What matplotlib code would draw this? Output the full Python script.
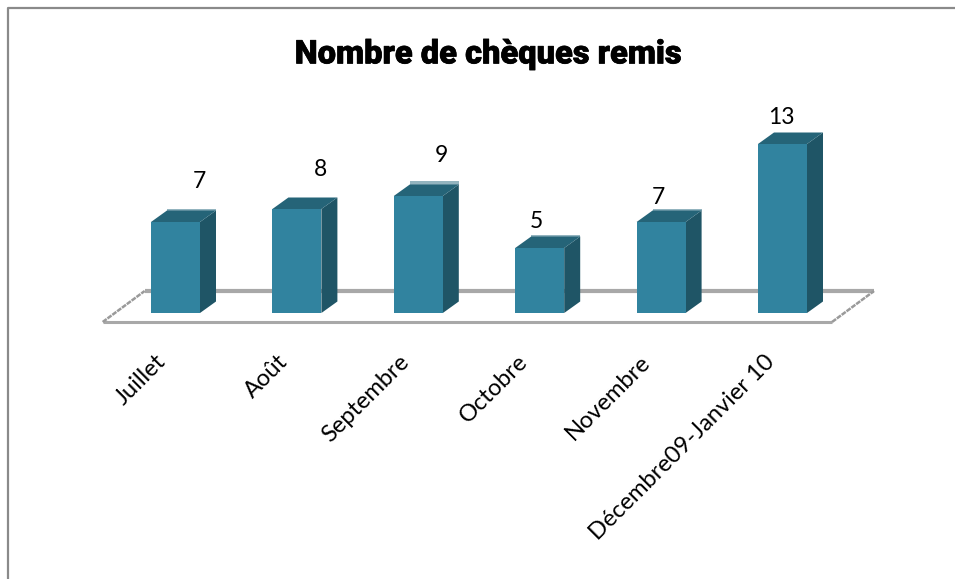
import matplotlib
matplotlib.use("Agg")
import matplotlib.pyplot as plt
import matplotlib.patheffects as pe
from matplotlib.lines import Line2D
from matplotlib.patches import Polygon

categories = ["Juillet", "Août", "Septembre", "Octobre", "Novembre", "Décembre09-Janvier 10"]
values = [7, 8, 9, 5, 7, 13]
# hand placed labels in the original, offsets in px from bar top centre
label_dx = [24, 24, 23, -3, -3, -1]
label_dy = [40, 39, 41, 26, 25, 26]
# end of the rotated axis labels, px from bar centre
tick_dx = [-21, -20, -20, -23, -22, -19]
strip = [0.1, 0, 0.3, 0.1, 0.1, 0]

front = "#31839f"
top = "#256478"
side = "#1f5566"
pale = "#93b4bf"
floor = "#a8a8a8"

W, H = 955, 579
px_x = 121.4   # px per category
px_y = 13.0    # px per unit
x0, y0 = 175.5, 313
bar_w = 49 / px_x
dep_x = 16 / px_x
dep_y = 11.5 / px_y

plt.rcParams["font.family"] = ["Lato", "DejaVu Sans"]
fig = plt.figure(figsize=(W / 100, H / 100), dpi=100)
ax = fig.add_axes([0, 0, 1, 1])
ax.set_xlim(-x0 / px_x, (W - x0) / px_x)
ax.set_ylim(-(H - y0) / px_y, y0 / px_y)
ax.axis("off")

# outer chart frame, open on the right and bottom
fig.add_artist(Line2D([8 / W, 8 / W, 1], [0, 1 - 8 / H, 1 - 8 / H], color="#8a8a8a", lw=1.6))

# floor of the 3d box
fl, fr, back = -0.6, 5.408, 0.346
ax.plot([fl + back, fr + back], [22 / px_y, 22 / px_y], color=floor, lw=3, zorder=1, solid_capstyle="butt")
ax.plot([fl, fr], [-9 / px_y, -9 / px_y], color=floor, lw=2.2, zorder=1, solid_capstyle="butt")
ax.plot([fl, fl + back], [-9 / px_y, 22 / px_y], color="#9a9a9a", lw=1.8, ls=(0, (2, 0.4)), zorder=1)
ax.plot([fr, fr + back], [-9 / px_y, 22 / px_y], color="#9a9a9a", lw=1.8, ls=(0, (2, 0.4)), zorder=1)

xs = list(range(len(values)))
for x, v, s in zip(xs, values, strip):
    l, r = x - bar_w / 2, x + bar_w / 2
    # pale strip behind the top face
    if s > 0:
        ax.add_patch(Polygon([(l + dep_x, v + dep_y), (l + dep_x, v + dep_y + s),
                              (r + dep_x, v + dep_y + s), (r + dep_x, v + dep_y)],
                             facecolor=pale, edgecolor="none", zorder=2))
    ax.add_patch(Polygon([(r, 0), (r + dep_x, dep_y), (r + dep_x, v + dep_y), (r, v)],
                         facecolor=side, edgecolor="none", zorder=3))
    ax.add_patch(Polygon([(l, v), (l + dep_x, v + dep_y), (r + dep_x, v + dep_y), (r, v)],
                         facecolor=top, edgecolor="none", zorder=3))
ax.bar(xs, values, width=bar_w, color=front, linewidth=0, zorder=4)

for x, v, dx, dy in zip(xs, values, label_dx, label_dy):
    ax.annotate(str(v), (x, v), xytext=(dx * 0.72, dy * 0.72), textcoords="offset points",
                ha="center", va="center", fontsize=16.5, color="black", zorder=5)

for x, name, dx in zip(xs, categories, tick_dx):
    ax.annotate(name, (x, 0), xytext=(dx * 0.72, -27.5), textcoords="offset points", rotation=45,
                rotation_mode="anchor", ha="right", va="top", fontsize=17, color="black")

ax.text(0.511, 0.906, "Nombre de chèques remis", transform=ax.transAxes, ha="center", va="center",
        fontsize=23.5, fontweight="black", family="Roboto", color="black",
        path_effects=[pe.withStroke(linewidth=0.5, foreground="black")])

fig.savefig("out.png", dpi=100)
